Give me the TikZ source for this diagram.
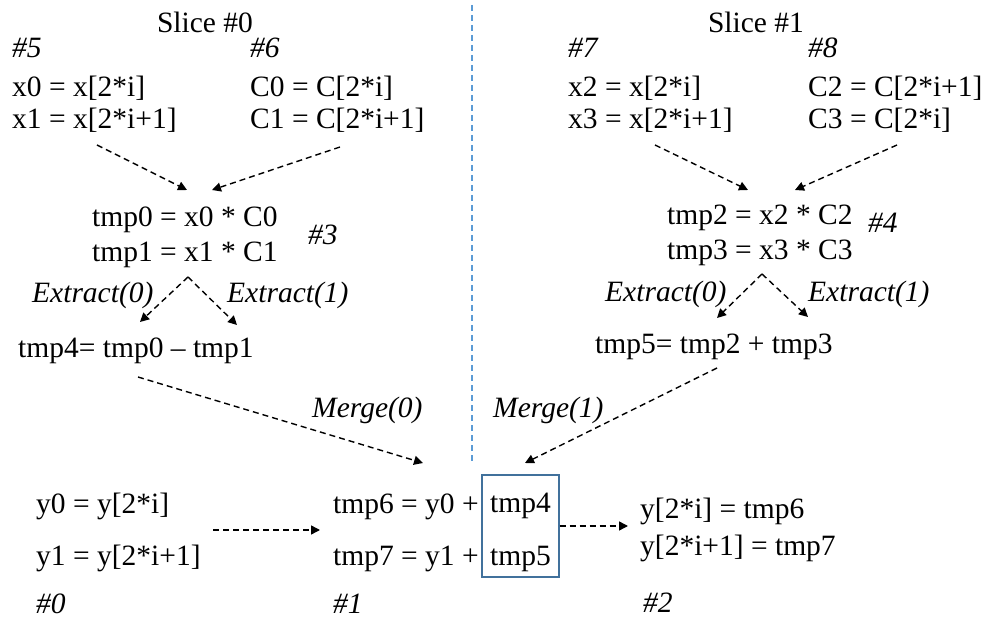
\documentclass[tikz,border=0pt]{standalone}
\usepackage{fontspec}
\setmainfont{Liberation Serif}
\usetikzlibrary{arrows.meta}
\definecolor{sepblue}{RGB}{91,155,213}
\definecolor{boxblue}{RGB}{65,113,156}
\tikzset{
  txt/.style={anchor=base west, inner sep=0pt, font=\fontsize{29.5}{34}\selectfont},
  lbl/.style={txt, font=\fontsize{29.5}{34}\selectfont\itshape},
  dar/.style={draw, line width=1.4pt, dash pattern=on 6pt off 4pt, -{Triangle[length=9pt,width=9pt]}},
  sep/.style={draw=sepblue, line width=1.1pt, dash pattern=on 6pt off 4pt},
  mbox/.style={draw=boxblue, line width=1.4pt, inner sep=0pt},
}
\begin{document}
\begin{tikzpicture}[x=1pt,y=-1pt]
\useasboundingbox (0,0) rectangle (988,620);
% separator
\coordinate (sepT) at (472,5);
\coordinate (sepB) at (472,464);
\draw[sep] (sepT) -- (sepB);

% slice 0
\node[txt,anchor=base] (s0) at (205,33) {Slice \#0};
\node[lbl] (n5) at (12,58) {\#5};
\node[lbl] (n6) at (250,58) {\#6};
\node[txt] (x0) at (12,97) {x0 = x[2*i]};
\node[txt] (x1) at (12,129) {x1 = x[2*i+1]};
\node[txt] (c0) at (250,97) {C0 = C[2*i]};
\node[txt] (c1) at (250,129) {C1 = C[2*i+1]};
\node[txt] (t0) at (92,227) {tmp0 = x0 * C0};
\node[txt] (t1) at (92,262) {tmp1 = x1 * C1};
\node[lbl] (n3) at (308,245) {\#3};
\node[lbl] (e00) at (32,303) {Extract(0)};
\node[lbl] (e01) at (227,303) {Extract(1)};
\node[txt] (t4) at (18,357) {tmp4= tmp0 -- tmp1};
\node[lbl] (m0) at (312,417) {Merge(0)};

% slice 1
\node[txt,anchor=base] (s1) at (756,33) {Slice \#1};
\node[lbl] (n7) at (568,58) {\#7};
\node[lbl] (n8) at (808,58) {\#8};
\node[txt] (x2) at (568,97) {x2 = x[2*i]};
\node[txt] (x3) at (568,129) {x3 = x[2*i+1]};
\node[txt] (c2) at (808,97) {C2 = C[2*i+1]};
\node[txt] (c3) at (808,129) {C3 = C[2*i]};
\node[txt] (t2) at (667,225) {tmp2 = x2 * C2};
\node[txt] (t3) at (667,260) {tmp3 = x3 * C3};
\node[lbl] (n4) at (868,233) {\#4};
\node[lbl] (e10) at (605,302) {Extract(0)};
\node[lbl] (e11) at (808,302) {Extract(1)};
\node[txt] (t5) at (595,353) {tmp5= tmp2 + tmp3};
\node[lbl] (m1) at (493,417) {Merge(1)};

% bottom
\node[txt] (y0) at (36,513) {y0 = y[2*i]};
\node[txt] (y1) at (36,565) {y1 = y[2*i+1]};
\node[txt] (t6) at (333,513) {tmp6 = y0 +};
\node[txt] (t7) at (333,565) {tmp7 = y1 +};
\node[mbox, minimum width=77pt, minimum height=102pt] (box) at (520.5,526) {};
\node[txt] (b4) at (490,512) {tmp4};
\node[txt] (b5) at (490,565) {tmp5};
\node[txt] (w0) at (640,518) {y[2*i] = tmp6};
\node[txt] (w1) at (640,555) {y[2*i+1] = tmp7};
\node[lbl] (n0) at (36,613) {\#0};
\node[lbl] (n1) at (333,613) {\#1};
\node[lbl] (n2) at (643,612) {\#2};

% arrow endpoints
\coordinate (a1s) at (97,145);  \coordinate (a1e) at (187,190);
\coordinate (a2s) at (340,147); \coordinate (a2e) at (212,190);
\coordinate (ap0) at (188,277);
\coordinate (a3e) at (140,322); \coordinate (a4e) at (237,325);
\coordinate (a5s) at (138,377); \coordinate (a5e) at (423,463);

\coordinate (b1s) at (655,145); \coordinate (b1e) at (748,190);
\coordinate (b2s) at (897,145); \coordinate (b2e) at (795,190);
\coordinate (ap1) at (762,274);
\coordinate (b3e) at (717,318); \coordinate (b4e) at (808,317);
\coordinate (b5s) at (717,368); \coordinate (b5e) at (525,463);

\coordinate (c1s) at (213,530); \coordinate (c1e) at (320,530);
\coordinate (c2e) at (628,526);

\draw[dar] (a1s) -- (a1e);
\draw[dar] (a2s) -- (a2e);
\draw[dar] (ap0) -- (a3e);
\draw[dar] (ap0) -- (a4e);
\draw[dar] (a5s) -- (a5e);
\draw[dar] (b1s) -- (b1e);
\draw[dar] (b2s) -- (b2e);
\draw[dar] (ap1) -- (b3e);
\draw[dar] (ap1) -- (b4e);
\draw[dar] (b5s) -- (b5e);
\draw[dar] (c1s) -- (c1e);
\draw[dar] (box.east |- c2e) -- (c2e);
\end{tikzpicture}
\end{document}
